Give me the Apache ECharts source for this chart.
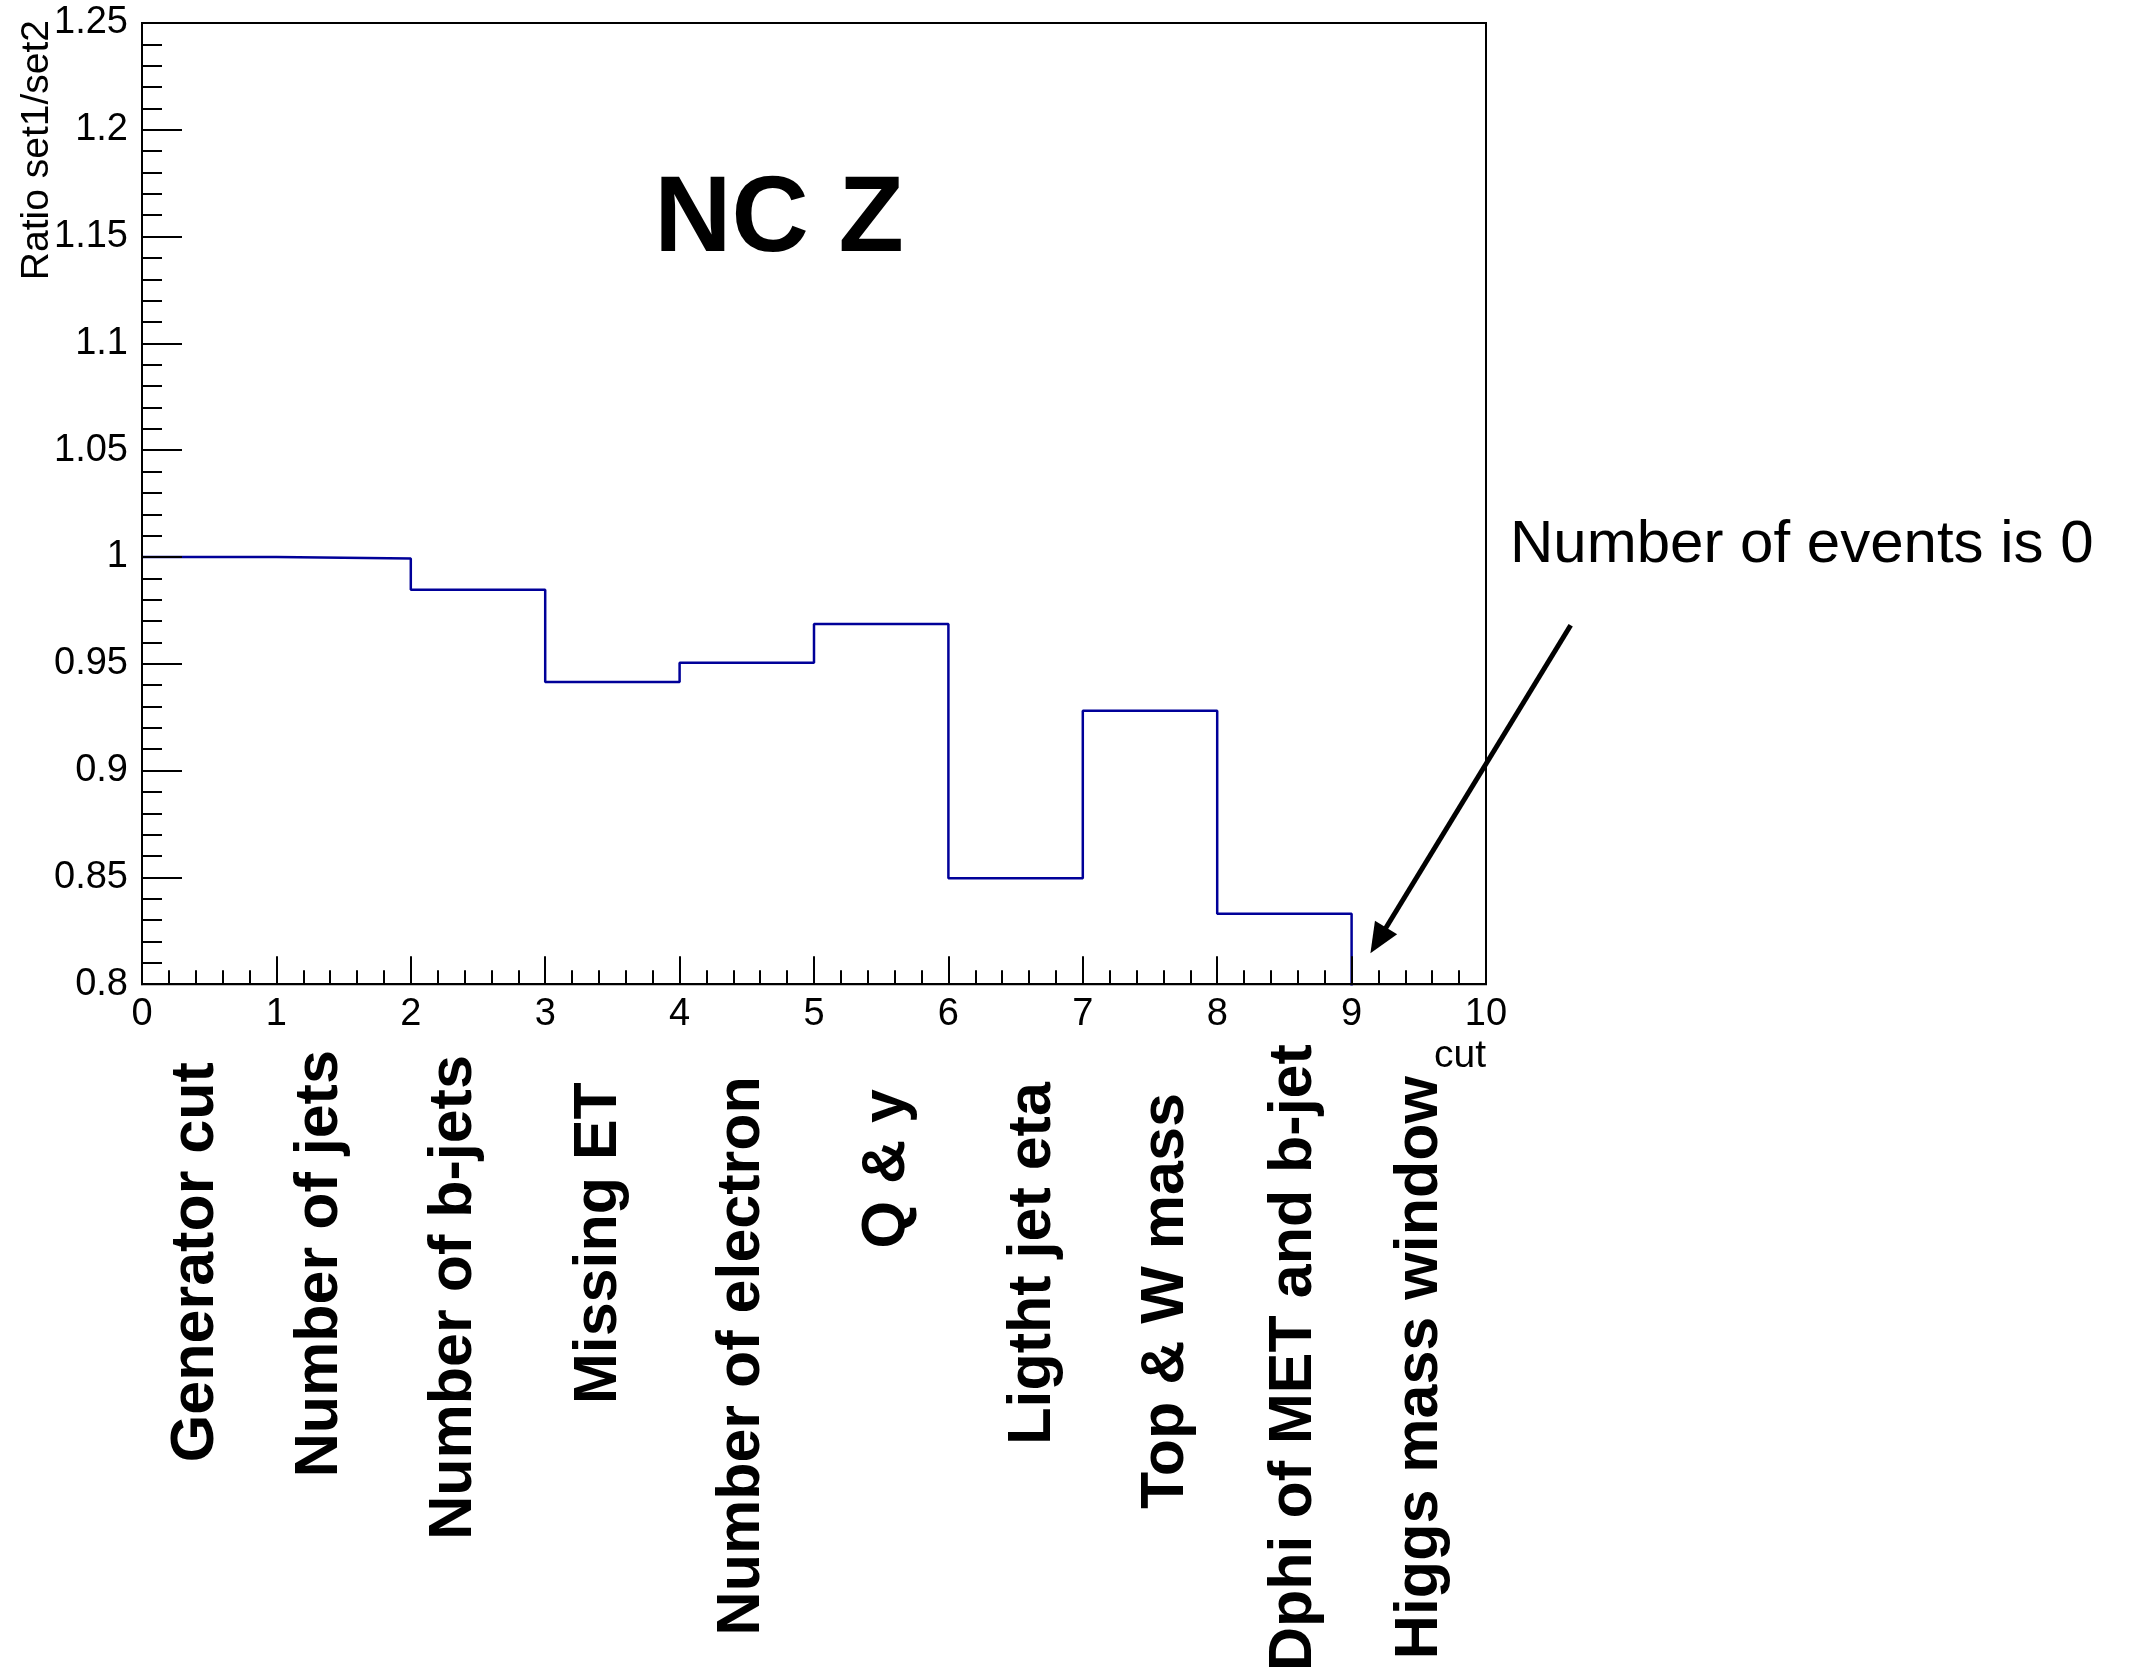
<!DOCTYPE html>
<html>
<head>
<meta charset="utf-8">
<script src="https://cdn.jsdelivr.net/npm/echarts@6/dist/echarts.min.js"></script>
<style>
  html, body { margin: 0; padding: 0; background: #ffffff; }
  #chart { width: 2129px; height: 1674px; }
</style>
</head>
<body>
<div id="chart"></div>
<script>
// Selection cuts, one bin per cut
const cutNames = [
  'Generator cut', 'Number of jets', 'Number of b-jets', 'Missing ET',
  'Number of electron', 'Q & y', 'Ligtht jet eta', 'Top & W mass',
  'Dphi of MET and b-jet', 'Higgs mass window'
];
// Bin edges on the "cut" axis
const cutEdges = [0, 1, 2, 3, 4, 5, 6, 7, 8, 9, 10];
// Ratio set1/set2 per cut (last cut has no events)
const ratioValues = [1.000, 0.9993, 0.9847, 0.9415, 0.9505, 0.9686, 0.8496, 0.928, 0.833, 0];

// Layout tweaks for the hand-placed cut names (pixels)
const labelShiftX = [-13, -23, -24, -13, -5, 6, 18, 16, 10, 1];
const labelDropY  = [20, 8, 13, 40, 34, 47, 40, 51, 2, 34];

const FONT = '"Liberation Sans", Arial, Helvetica, sans-serif';
const GRID = { left: 142, top: 23, width: 1344, height: 965 };
const pxPerUnit = GRID.width / (cutEdges[cutEdges.length - 1] - cutEdges[0]);

// Step-line histogram points: one point per left bin edge, plus the closing edge
const histPoints = cutEdges.map((e, i) => [e, ratioValues[Math.min(i, ratioValues.length - 1)]]);

// Positions of the cut-name labels along the cut axis
const labelValues = cutNames.map((_, i) => cutEdges[i] + 0.5 + labelShiftX[i] / pxPerUnit);

const rich = {};
cutNames.forEach((_, i) => {
  rich['c' + i] = {
    fontFamily: FONT,
    fontSize: 61,
    fontWeight: 'bold',
    color: '#000',
    padding: [0, labelDropY[i], 0, 0]
  };
});

const chart = echarts.init(document.getElementById('chart'), null, { renderer: 'canvas' });

const option = {
  backgroundColor: '#ffffff',
  animation: false,
  grid: {
    left: GRID.left, top: GRID.top, width: GRID.width, height: GRID.height,
    show: true, borderColor: '#000', borderWidth: 2, backgroundColor: 'transparent'
  },
  xAxis: [
    {
      type: 'value', min: 0, max: 10, interval: 1, position: 'bottom', z: 3,
      axisLine: { show: true, onZero: false, lineStyle: { color: '#000', width: 2 } },
      axisTick: { show: true, inside: true, length: 28, lineStyle: { color: '#000', width: 2 } },
      minorTick: { show: true, splitNumber: 5, length: 14, lineStyle: { color: '#000', width: 2 } },
      splitLine: { show: false },
      axisLabel: { show: true, margin: 11, fontFamily: FONT, fontSize: 38, color: '#000' },
      name: 'cut', nameLocation: 'end', nameGap: 0,
      nameTextStyle: {
        fontFamily: FONT, fontSize: 39, color: '#000',
        align: 'right', verticalAlign: 'top', padding: [53, 0, 0, 0]
      }
    },
    {
      type: 'value', min: 0, max: 10, position: 'bottom', z: 3,
      axisLine: { show: false },
      axisTick: { show: false },
      splitLine: { show: false },
      axisLabel: {
        show: true,
        customValues: labelValues,
        rotate: 90,
        margin: 58,
        formatter: function (value) {
          let best = 0;
          for (let i = 1; i < labelValues.length; i++) {
            if (Math.abs(labelValues[i] - value) < Math.abs(labelValues[best] - value)) best = i;
          }
          return '{c' + best + '|' + cutNames[best] + '}';
        },
        rich: rich
      }
    }
  ],
  yAxis: {
    type: 'value', min: 0.8, max: 1.25, interval: 0.05, z: 3,
    axisLine: { show: true, onZero: false, lineStyle: { color: '#000', width: 2 } },
    axisTick: { show: true, inside: true, length: 40, lineStyle: { color: '#000', width: 2 } },
    minorTick: { show: true, splitNumber: 5, length: 20, lineStyle: { color: '#000', width: 2 } },
    splitLine: { show: false },
    axisLabel: {
      show: true, margin: 14, fontFamily: FONT, fontSize: 38, color: '#000',
      padding: [8, 0, 0, 0]
    }
  },
  series: [
    {
      type: 'line',
      xAxisIndex: 0,
      yAxisIndex: 0,
      z: 1,
      step: 'end',
      showSymbol: false,
      clip: true,
      data: histPoints,
      lineStyle: { color: '#000099', width: 2.5 }
    }
  ]
};

chart.setOption(option);

// Annotations: title, y-axis caption, arrow note for the empty last cut
const tip = chart.convertToPixel({ gridIndex: 0 }, [9.14, 0.8145]);
const tail = chart.convertToPixel({ gridIndex: 0 }, [10.63, 0.968]);
const dx = tip[0] - tail[0], dy = tip[1] - tail[1];
const len = Math.sqrt(dx * dx + dy * dy);
const ux = dx / len, uy = dy / len;
const headLen = 30, headHalf = 13;
const base = [tip[0] - ux * headLen, tip[1] - uy * headLen];
const px = -uy, py = ux;

chart.setOption({
  graphic: [
    {
      type: 'text', x: 779, y: 221,
      style: {
        text: 'NC Z', fontFamily: FONT, fontSize: 107, fontWeight: 'bold',
        fill: '#000', align: 'center', verticalAlign: 'middle'
      }
    },
    {
      type: 'text', x: 37, y: 20, rotation: Math.PI / 2,
      style: {
        text: 'Ratio set1/set2', fontFamily: FONT, fontSize: 39,
        fill: '#000', align: 'right', verticalAlign: 'middle'
      }
    },
    {
      type: 'text', x: 1510, y: 545,
      style: {
        text: 'Number of events is 0', fontFamily: FONT, fontSize: 60,
        fill: '#000', align: 'left', verticalAlign: 'middle'
      }
    },
    {
      type: 'line',
      shape: { x1: tail[0], y1: tail[1], x2: base[0] + ux * 4, y2: base[1] + uy * 4 },
      style: { stroke: '#000', lineWidth: 5 }
    },
    {
      type: 'polygon',
      shape: {
        points: [
          [tip[0], tip[1]],
          [base[0] + px * headHalf, base[1] + py * headHalf],
          [base[0] - px * headHalf, base[1] - py * headHalf]
        ]
      },
      style: { fill: '#000' }
    }
  ]
});
</script>
</body>
</html>
